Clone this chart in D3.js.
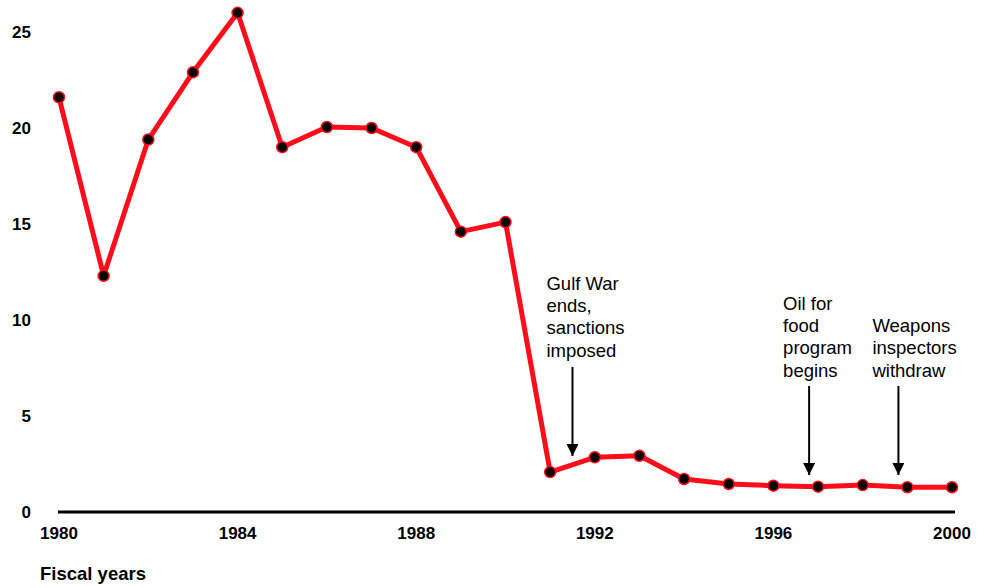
<!DOCTYPE html>
<html lang="en">
<head>
<meta charset="UTF-8">
<title>Fiscal years chart</title>
<script src="https://d3js.org/d3.v7.min.js"></script>
<style>
    body { margin: 0; background: #fff; font-family: "Liberation Sans", Arial, sans-serif; }
    .tick-label { font-size: 17px; font-weight: bold; fill: #000; }
    .axis-title { font-size: 18.5px; font-weight: bold; fill: #000; }
    .note { font-size: 18.5px; fill: #000; }
</style>
</head>
<body>
<div id="chart"></div>
<script>
    // Data
    const years = [1980, 1981, 1982, 1983, 1984, 1985, 1986, 1987, 1988, 1989, 1990,
                   1991, 1992, 1993, 1994, 1995, 1996, 1997, 1998, 1999, 2000];
    const values = [21.6, 12.3, 19.4, 22.9, 26.0, 19.0, 20.05, 20.0, 19.0, 14.6, 15.1,
                    2.08, 2.85, 2.93, 1.72, 1.46, 1.37, 1.32, 1.4, 1.29, 1.29];
    const yTicks = [0, 5, 10, 15, 20, 25];
    const xTicks = [1980, 1984, 1988, 1992, 1996, 2000];
    const notes = [
        { year: 1991.5, lines: ["Gulf War", "ends,", "sanctions", "imposed"], lastY: 350, top: 367, tip: 456 },
        { year: 1996.8, lines: ["Oil for", "food", "program", "begins"], lastY: 370, top: 386, tip: 475 },
        { year: 1998.8, lines: ["Weapons", "inspectors", "withdraw"], lastY: 370, top: 386, tip: 475 }
    ];

    const W = 988, H = 588;
    const svg = d3.select("#chart").append("svg")
        .attr("width", W).attr("height", H);

    const x = d3.scaleLinear().domain([1980, 2000]).range([59, 952]);
    const y = d3.scaleLinear().domain([0, 25]).range([512, 32]);

    // baseline
    svg.append("line")
        .attr("x1", 58).attr("x2", 955)
        .attr("y1", y(0)).attr("y2", y(0))
        .attr("stroke", "#000").attr("stroke-width", 3);

    // y labels
    svg.selectAll(".ylab").data(yTicks).enter().append("text")
        .attr("class", "tick-label")
        .attr("x", 31).attr("y", d => y(d))
        .attr("dy", "0.36em")
        .attr("text-anchor", "end")
        .text(d => d);

    // x labels
    svg.selectAll(".xlab").data(xTicks).enter().append("text")
        .attr("class", "tick-label")
        .attr("x", d => x(d)).attr("y", 539)
        .attr("text-anchor", "middle")
        .text(d => d);

    svg.append("text")
        .attr("class", "axis-title")
        .attr("x", 40).attr("y", 580)
        .text("Fiscal years");

    // annotations
    svg.append("defs").append("marker")
        .attr("id", "arrow")
        .attr("viewBox", "0 0 10 10")
        .attr("refX", 10).attr("refY", 5)
        .attr("markerWidth", 6).attr("markerHeight", 6)
        .attr("markerUnits", "strokeWidth")
        .attr("orient", "auto")
        .append("path").attr("d", "M0,0 L10,5 L0,10 Z").attr("fill", "#000");

    const lineH = 22.3;
    notes.forEach(n => {
        const ax = x(n.year);
        const g = svg.append("g");
        g.selectAll("text").data(n.lines).enter().append("text")
            .attr("class", "note")
            .attr("x", ax - 26)
            .attr("y", (d, i) => n.lastY - (n.lines.length - 1 - i) * lineH)
            .attr("dy", "0.36em")
            .text(d => d);
        g.append("line")
            .attr("x1", ax).attr("x2", ax)
            .attr("y1", n.top)
            .attr("y2", n.tip)
            .attr("stroke", "#000").attr("stroke-width", 2)
            .attr("marker-end", "url(#arrow)");
    });

    // data line
    const pts = years.map((yr, i) => ({ yr, v: values[i] }));
    svg.append("path")
        .datum(pts)
        .attr("fill", "none")
        .attr("stroke", "#ff0d1a")
        .attr("stroke-width", 5)
        .attr("stroke-linejoin", "round")
        .attr("d", d3.line().x(d => x(d.yr)).y(d => y(d.v)));

    svg.selectAll(".pt").data(pts).enter().append("circle")
        .attr("cx", d => x(d.yr)).attr("cy", d => y(d.v))
        .attr("r", 5.5)
        .attr("fill", "#000")
        .attr("stroke", "#ff0d1a").attr("stroke-width", 1.5);
</script>
</body>
</html>
